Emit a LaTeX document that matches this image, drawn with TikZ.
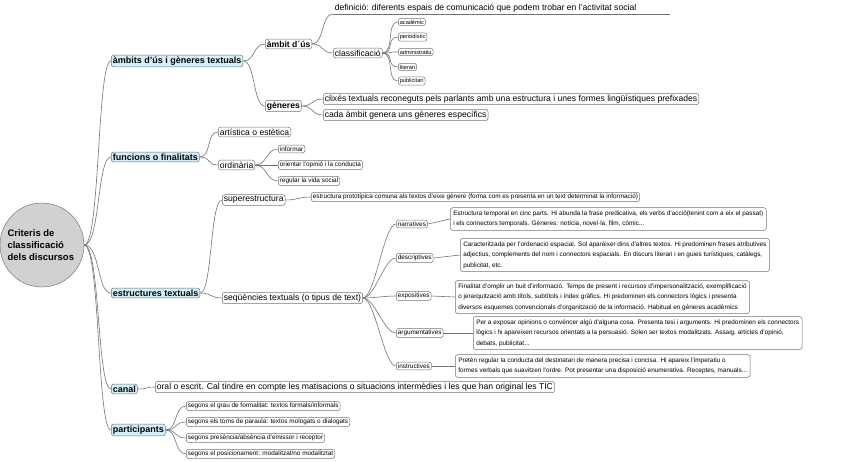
\documentclass[tikz,border=0pt]{standalone}
\usepackage{fontspec}
\setmainfont{Liberation Sans}
\begin{document}
\begin{tikzpicture}[x=1pt,y=-1pt,
  box/.style={draw=black!55,rounded corners=2.5pt,fill=white,anchor=west,inner sep=1.6pt,line width=0.5pt},
  lone/.style={box,fill=cyan!18,font=\fontsize{9}{10}\selectfont\bfseries},
  ltwo/.style={box,font=\fontsize{8.6}{10}\selectfont},
  btwo/.style={box,font=\fontsize{8.6}{10}\selectfont\bfseries},
  lsm/.style={box,font=\fontsize{6.4}{8}\selectfont},
  lxs/.style={box,font=\fontsize{5.6}{7}\selectfont},
  para/.style={box,font=\fontsize{6.4}{10.5}\selectfont,align=left,inner sep=3pt},
  conn/.style={draw=black!55,line width=0.6pt}]
\useasboundingbox (0,0) rectangle (848,461);
\newcommand\lk[2]{\draw[conn] (#1.east) .. controls +(12,0) and +(-12,0) .. (#2.west);}
\node[circle,draw=black!60,fill=black!18,minimum size=84pt,inner sep=0pt] (root) at (42,245) {};
\node[anchor=west,align=left,font=\fontsize{9.5}{12}\selectfont\bfseries] (roott) at (4,245) {Criteris de\\classificació\\dels discursos};
% level 1
\node[lone] (a) at (111,61) {àmbits d'ús i gèneres textuals};
\node[lone] (f) at (111,157) {funcions o finalitats};
\node[lone] (e) at (111,293) {estructures textuals};
\node[lone] (c) at (111,389) {canal};
\node[lone] (p) at (111,430) {participants};
\foreach \n in {a,f,e,c,p}{\draw[conn] (root.east) .. controls +(16,0) and +(-14,0) .. (\n.west);}
% ambits
\node[btwo] (au) at (265,44) {àmbit d´ús};
\node[btwo] (ge) at (265,106) {gèneres};
\lk{a}{au}\lk{a}{ge}
\node[anchor=west,font=\fontsize{8.6}{10}\selectfont,inner sep=1.6pt] (def) at (333,8) {definició: diferents espais de comunicació que podem trobar en l'activitat social};
\draw[conn] (def.south west) -- ++(337,0) coordinate (defe);
\node[ltwo] (cl) at (333,53) {classificació};
\draw[conn] (au.east) .. controls +(12,0) and +(-12,0) .. (def.south west);
\lk{au}{cl}
\node[lxs] (k1) at (398,22) {acadèmic};
\node[lxs] (k2) at (398,37) {periodístic};
\node[lxs] (k3) at (398,52) {administratiu};
\node[lxs] (k4) at (398,67) {literari};
\node[lxs] (k5) at (398,81) {publicitari};
\foreach \n in {k1,k2,k3,k4,k5}{\lk{cl}{\n}}
\node[ltwo] (g1) at (323,99) {clixés textuals reconeguts pels parlants amb una estructura i unes formes lingüístiques prefixades};
\node[ltwo] (g2) at (323,115) {cada àmbit genera uns gèneres específics};
\lk{ge}{g1}\lk{ge}{g2}
% funcions
\node[ltwo] (fa) at (218,132) {artística o estètica};
\node[ltwo] (fo) at (218,165) {ordinària};
\lk{f}{fa}\lk{f}{fo}
\node[lsm] (o1) at (278,149) {informar};
\node[lsm] (o2) at (278,165) {orientar l'opinió i la conducta};
\node[lsm] (o3) at (278,181) {regular la vida social};
\lk{fo}{o1}\lk{fo}{o2}\lk{fo}{o3}
% estructures
\node[ltwo] (su) at (222,200) {superestructura};
\node[lsm] (sut) at (311,197) {estructura prototípica comuna als textos d'eixe gènere (forma com es presenta en un text determinat la informació)};
\node[ltwo] (sq) at (222,298) {seqüències textuals (o tipus de text)};
\lk{e}{su}\lk{e}{sq}\lk{su}{sut}
\node[lsm] (t1) at (396,224) {narratives};
\node[lsm] (t2) at (396,258) {descriptives};
\node[lsm] (t3) at (396,296) {expositives};
\node[lsm] (t4) at (396,333) {argumentatives};
\node[lsm] (t5) at (396,366) {instructives};
\foreach \n in {t1,t2,t3,t4,t5}{\lk{sq}{\n}}
\node[para] (p1) at (450,219) {Estructura temporal en cinc parts. Hi abunda la frase predicativa, els verbs d'acció(tenint com a eix el passat)\\i els connectors temporals. Gèneres: notícia, novel·la, film, còmic...};
\node[para] (p2) at (460,255) {Caracteritzada per l'ordenació espacial. Sol aparéixer dins d'altres textos. Hi predominen frases atributives\\adjectius, complements del nom i connectors espacials. En discurs literari i en guies turístiques, catàlegs,\\publicitat, etc.};
\node[para] (p3) at (455,297) {Finalitat d'omplir un buit d'informació. Temps de present i recursos d'impersonalització, exemplificació\\o jerarquització amb títols, subtítols i índex gràfics. Hi predominen els connectors lògics i presenta\\diversos esquemes convencionals d'organització de la informació. Habitual en gèneres acadèmics};
\node[para] (p4) at (473,333) {Per a exposar opinions o convéncer algú d'alguna cosa. Presenta tesi i arguments. Hi predominen els connectors\\lògics i hi apareixen recursos orientats a la persuasió. Solen ser textos modalitzats. Assaig, articles d'opinió,\\debats, publicitat...};
\node[para] (p5) at (455,366) {Pretén regular la conducta del destinatari de manera precisa i concisa. Hi apareix l'imperatiu o\\formes verbals que suavitzen l'ordre. Pot presentar una disposició enumerativa. Receptes, manuals...};
\foreach \i in {1,...,5}{\draw[conn] (t\i.east) -- (p\i.west);}
% canal
\node[ltwo] (ct) at (155,387) {oral o escrit. Cal tindre en compte les matisacions o situacions intermèdies i les que han original les TIC};
\lk{c}{ct}
% participants
\node[lsm] (q1) at (186,406) {segons el grau de formalitat: textos formals/informals};
\node[lsm] (q2) at (186,422) {segons els torns de paraula: textos mologats o dialogats};
\node[lsm] (q3) at (186,438) {segons presència/absència d'emissor i receptor};
\node[lsm] (q4) at (186,454) {segons el posicionament: modalitzat/no modalitztat};
\foreach \n in {q1,q2,q3,q4}{\lk{p}{\n}}
\end{tikzpicture}
\end{document}
